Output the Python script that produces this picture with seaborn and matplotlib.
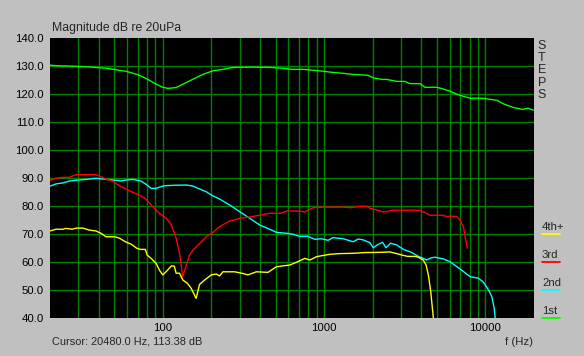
import numpy as np
import pandas as pd
import matplotlib
matplotlib.use("Agg")
import matplotlib.pyplot as plt
from matplotlib.ticker import FixedLocator, NullFormatter
import seaborn as sns

# ---------------- data ----------------
f_1st = [20, 22, 33, 38.5, 44.5, 49.6, 59.3, 68.4, 75.2, 82.6, 91, 100, 108, 121, 133,
         153, 177, 205, 236, 272, 350, 460, 556, 630, 745, 890, 1000, 1116, 1307, 1500,
         1870, 2009, 2300, 2450, 2830, 3170, 3400, 3930, 4220, 5010, 5460, 6030, 6670,
         7270, 8030, 9530, 10690, 11820, 12890, 14860, 16900, 18400, 19800]
db_1st = [130.3, 130.1, 129.75, 129.5, 129.2, 128.8, 128.1, 127.1, 126.1, 124.9, 123.5,
          122.4, 122.0, 122.3, 123.5, 125.2, 127.0, 128.3, 128.8, 129.5, 129.6, 129.5,
          129.2, 128.8, 128.8, 128.4, 128.1, 127.75, 127.4, 127.0, 126.7, 125.8, 125.2,
          125.2, 124.5, 124.5, 123.7, 123.7, 122.4, 122.4, 121.8, 121.0, 119.9, 119.2,
          118.5, 118.5, 118.1, 117.75, 116.5, 115.2, 114.5, 114.9, 114.2]

f_2nd = [20, 21.8, 23.9, 26.3, 29, 33.4, 38.5, 44.5, 51.4, 55.2, 57.8, 65.1, 73.4, 78.8,
         84.7, 91, 95.3, 102.5, 118, 140, 154, 169, 186, 200, 225, 259, 299, 346, 399,
         460, 506, 584, 642, 700, 790, 876, 963, 1059, 1138, 1313, 1514, 1626, 1747,
         1922, 2014, 2163, 2305, 2417, 2585, 2817, 3098, 3489, 3839, 4121, 4327, 4600,
         4875, 5483, 6035, 6964, 8038, 9059, 9726, 10450, 10960, 11330, 11490]
db_2nd = [87.1, 87.9, 88.2, 88.9, 89.2, 89.5, 89.9, 89.5, 89.2, 88.9, 89.2, 89.5, 88.9,
          87.75, 86.3, 86.3, 86.7, 87.25, 87.4, 87.5, 87.1, 86.1, 85.1, 83.9, 82.5, 80.4,
          78.0, 75.6, 73.2, 71.7, 70.6, 70.25, 69.9, 69.2, 69.2, 68.1, 68.3, 67.75, 68.7,
          68.3, 67.25, 68.2, 67.9, 66.9, 65.1, 66.3, 67.0, 65.1, 66.7, 66.1, 64.5, 63.4,
          62.0, 61.3, 60.7, 61.5, 61.7, 61.1, 60.1, 57.5, 54.75, 54.2, 52.75, 50.0, 47.6,
          43.5, 40.0]

f_3rd = [20, 21.8, 24, 26.3, 29, 38.5, 40.5, 44.5, 48.3, 53, 59.3, 65.1, 71.7, 78.8, 86.7,
         95.3, 105, 113, 121, 127, 133, 140, 146.5, 154, 169, 186, 205, 225, 259, 299,
         346, 399, 460, 540, 584, 700, 759, 855, 1000, 1300, 1479, 1650, 1850, 1922,
         2113, 2300, 2420, 2623, 3251, 3929, 4121, 4538, 5483, 5700, 6637, 6964, 7300,
         7516, 7730]
db_3rd = [89.2, 89.9, 90.25, 90.25, 91.2, 91.2, 90.7, 89.6, 89.0, 87.5, 86.0, 84.9, 83.9,
          82.4, 79.75, 77.4, 75.6, 73.2, 68.5, 63.1, 54.75, 58.9, 62.5, 64.3, 66.6, 69.0,
          70.6, 72.6, 74.6, 75.6, 76.1, 76.7, 77.4, 77.4, 78.2, 78.2, 77.9, 79.4, 79.6,
          79.6, 79.4, 79.9, 79.9, 79.2, 78.6, 77.9, 77.9, 78.5, 78.5, 78.5, 77.9, 76.7,
          76.7, 76.3, 76.3, 75.0, 72.6, 68.5, 64.9]

f_4th = [20, 21.8, 24, 25, 27.5, 29, 32, 35, 38.5, 41.4, 44.5, 50.5, 54, 58.5, 64, 69, 73,
         78, 80, 84.7, 91, 95.3, 100, 106, 113, 118, 121, 127, 133, 142, 150, 161, 169,
         182, 200, 215, 225, 236, 279, 314, 337, 380, 449, 506, 570, 612, 674, 759, 815,
         897, 1084, 1253, 1514, 1833, 2014, 2350, 2553, 2817, 3027, 3300, 3650, 3839,
         4121, 4286, 4428, 4581, 4690, 4755]
db_4th = [71.1, 71.7, 71.7, 72.0, 71.7, 72.1, 72.1, 71.4, 71.1, 70.25, 69.0, 69.0, 68.5,
          67.25, 66.3, 64.9, 64.5, 64.5, 62.5, 61.3, 59.5, 57.1, 55.4, 56.8, 58.6, 58.5,
          56.0, 56.0, 53.6, 52.4, 50.6, 47.0, 52.0, 53.6, 55.4, 55.7, 55.0, 56.5, 56.5,
          55.9, 55.4, 56.5, 56.3, 58.3, 58.7, 58.9, 59.9, 61.3, 60.7, 61.9, 62.75, 63.0,
          63.1, 63.4, 63.4, 63.5, 63.6, 63.0, 62.5, 62.0, 62.0, 61.7, 60.7, 58.9, 55.4,
          49.4, 43.5, 40.0]

series_names = ["1st", "2nd", "3rd", "4th+"]
series_colors = ["#00FF00", "#00FFFF", "#FF0000", "#FFFF00"]
y_ticks = [40, 50, 60, 70, 80, 90, 100, 110, 120, 130, 140]
x_major = [100, 1000, 10000]
x_major_labels = ["100", "1000", "10000"]
x_minor = [30, 40, 50, 60, 70, 80, 90, 200, 300, 400, 500, 600, 700, 800, 900,
           2000, 3000, 4000, 5000, 6000, 7000, 8000, 9000]

# ---------------- figure ----------------
sns.set_style("dark")
FONT = "Liberation Sans"
plt.rcParams["font.family"] = [FONT, "DejaVu Sans"]

W, H = 584, 356
fig = plt.figure(figsize=(W / 100, H / 100), dpi=100, facecolor="#C0C0C0")
L, R, T, B = 50, 534, 38, 318
ax = fig.add_axes([L / W, 1 - B / H, (R - L) / W, (B - T) / H])
ax.set_facecolor("black")
for s in ax.spines.values():
    s.set_visible(False)

ax.set_xscale("log")
ax.set_xlim(20, 20000)
ax.set_ylim(40, 140)

# grid
gcol = "#008000"
for xv in x_major + x_minor:
    ax.axvline(xv, color=gcol, lw=1.0, zorder=1)
for yv in y_ticks[1:-1]:
    ax.axhline(yv, color=gcol, lw=1.0, zorder=1)
ax.grid(False)

data = [(f_1st, db_1st), (f_2nd, db_2nd), (f_3rd, db_3rd), (f_4th, db_4th)]
for (fx, dy), name, col in zip(data, series_names, series_colors):
    df = pd.DataFrame({"f": fx, "dB": dy})
    sns.lineplot(data=df, x="f", y="dB", ax=ax, color=col, lw=1.0, sort=False,
                 estimator=None, zorder=3)

ax.set_xlabel("")
ax.set_ylabel("")
ax.xaxis.set_major_locator(FixedLocator(x_major))
ax.set_xticklabels(x_major_labels)
ax.xaxis.set_minor_locator(FixedLocator(x_minor))
ax.xaxis.set_minor_formatter(NullFormatter())
ax.set_yticks(y_ticks)
ax.set_yticklabels([f"{v:.1f}" for v in y_ticks])
ax.tick_params(axis="both", which="both", length=0, labelsize=8.2, colors="black")
ax.tick_params(axis="y", pad=4.5)
ax.tick_params(axis="x", pad=3.5)

def px(x, y):
    return x / W, 1 - y / H

fig.text(*px(52, 28), "Magnitude dB re 20uPa", fontsize=8.8, ha="left", va="center")
fig.text(*px(52, 342), "Cursor: 20480.0 Hz, 113.38 dB", fontsize=7.9, ha="left", va="center")
fig.text(*px(533, 342), "f (Hz)", fontsize=8.2, ha="right", va="center")

for i, ch in enumerate("STEPS"):
    fig.text(*px(542, 46 + i * 12.2), ch, fontsize=9, ha="center", va="center")

# legend entries on the right
for name, col, yv in zip(series_names, series_colors, [40, 50, 60, 70]):
    ypix = T + (140 - yv) * 2.8
    fig.text(*px(542, ypix - 7), name, fontsize=8.2, ha="left", va="center")
    fig.add_artist(plt.Line2D([542 / W, 560 / W], [1 - ypix / H, 1 - ypix / H],
                              color=col, lw=1.3, transform=fig.transFigure))

fig.savefig("out.png", dpi=100, facecolor=fig.get_facecolor())
